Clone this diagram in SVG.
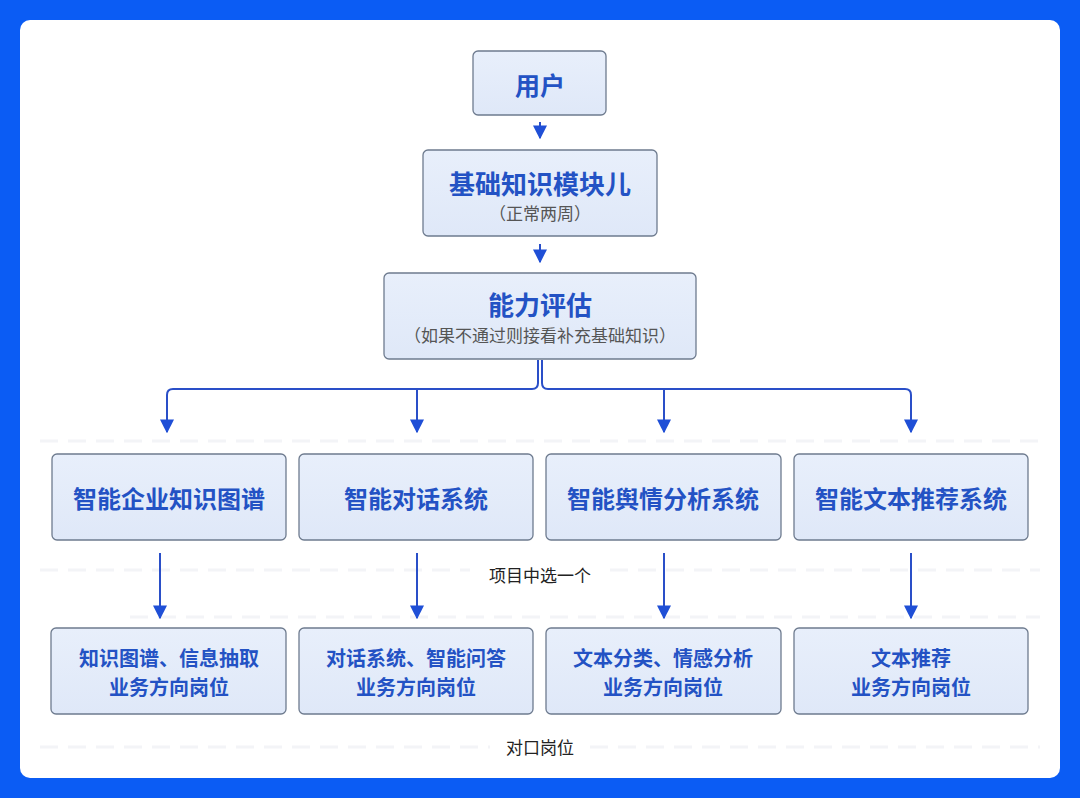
<svg xmlns="http://www.w3.org/2000/svg" width="1080" height="798" viewBox="0 0 1080 798">
<defs>
<linearGradient id="bg" x1="0" y1="0" x2="0" y2="1">
<stop offset="0" stop-color="#e8effb"/>
<stop offset="1" stop-color="#dfe8f8"/>
</linearGradient>
<marker id="ah" viewBox="0 0 10 10" refX="9" refY="5" markerWidth="14" markerHeight="14" markerUnits="userSpaceOnUse" orient="auto">
<path d="M0,0 L10,5 L0,10 Z" fill="#1f4fd6"/>
</marker>
</defs>
<style>
.box{fill:url(#bg);stroke:#6e7b8f;stroke-width:1.3}
.t{font-family:"Noto Sans CJK SC","Noto Sans",sans-serif;font-weight:bold;fill:#2352c4;text-anchor:middle;dominant-baseline:central}
.s{font-family:"Noto Sans CJK SC","Noto Sans",sans-serif;fill:#555;text-anchor:middle;dominant-baseline:central;font-size:17px}
.lbl{font-family:"Noto Sans CJK SC","Noto Sans",sans-serif;fill:#222;text-anchor:middle;dominant-baseline:central;font-size:17px}
.c{fill:none;stroke:#2a4fc8;stroke-width:2}
.d{stroke:#f3f4f7;stroke-width:3;stroke-dasharray:18 10}
</style>
<rect x="0" y="0" width="1080" height="798" fill="#0b5cf4"/>
<rect x="20" y="20" width="1040" height="758" rx="10" fill="#ffffff"/>
<g id="lanes">
<line class="d" x1="40" y1="441" x2="1040" y2="441"/>
<line class="d" x1="40" y1="570" x2="470" y2="570"/>
<line class="d" x1="610" y1="570" x2="1040" y2="570"/>
<line class="d" x1="130" y1="617" x2="1040" y2="617"/>
<line class="d" x1="40" y1="747" x2="490" y2="747"/>
<line class="d" x1="590" y1="747" x2="1040" y2="747"/>
</g>
<g id="connectors">
<path class="c" d="M540,122 L540,138" marker-end="url(#ah)"/>
<path class="c" d="M540,244 L540,262" marker-end="url(#ah)"/>
<path class="c" d="M538,360 L538,383 Q538,389 532,389 L173,389 Q167,389 167,395 L167,432" marker-end="url(#ah)"/>
<path class="c" d="M542,360 L542,383 Q542,389 548,389 L905,389 Q911,389 911,395 L911,432" marker-end="url(#ah)"/>
<path class="c" d="M417,389 L417,432" marker-end="url(#ah)"/>
<path class="c" d="M664,389 L664,432" marker-end="url(#ah)"/>
<path class="c" d="M160,553 L160,618" marker-end="url(#ah)"/>
<path class="c" d="M417,553 L417,618" marker-end="url(#ah)"/>
<path class="c" d="M664,553 L664,618" marker-end="url(#ah)"/>
<path class="c" d="M911,553 L911,618" marker-end="url(#ah)"/>
</g>
<g id="user">
<rect class="box" x="473" y="51" width="133" height="64" rx="5"/>
<text class="t" x="540" y="84" font-size="25">用户</text>
</g>
<g id="basic">
<rect class="box" x="423" y="150" width="234" height="86" rx="5"/>
<text class="t" x="540" y="182" font-size="26">基础知识模块儿</text>
<text class="s" x="540" y="212" font-size="16">（正常两周）</text>
</g>
<g id="eval">
<rect class="box" x="384" y="273" width="312" height="86" rx="5"/>
<text class="t" x="540" y="303" font-size="26">能力评估</text>
<text class="s" x="540" y="334">（如果不通过则接看补充基础知识）</text>
</g>
<g id="p1">
<rect class="box" x="52" y="454" width="234" height="86" rx="5"/>
<text class="t" x="169" y="497" font-size="24">智能企业知识图谱</text>
</g>
<g id="p2">
<rect class="box" x="299" y="454" width="234" height="86" rx="5"/>
<text class="t" x="416" y="497" font-size="24">智能对话系统</text>
</g>
<g id="p3">
<rect class="box" x="546" y="454" width="235" height="86" rx="5"/>
<text class="t" x="663" y="497" font-size="24">智能舆情分析系统</text>
</g>
<g id="p4">
<rect class="box" x="794" y="454" width="234" height="86" rx="5"/>
<text class="t" x="911" y="497" font-size="24">智能文本推荐系统</text>
</g>
<g id="choose">
<text class="lbl" x="540" y="574">项目中选一个</text>
</g>
<g id="j1">
<rect class="box" x="51" y="628" width="235" height="86" rx="5"/>
<text class="t" x="169" y="657" font-size="20">知识图谱、信息抽取</text>
<text class="t" x="169" y="686" font-size="20">业务方向岗位</text>
</g>
<g id="j2">
<rect class="box" x="299" y="628" width="234" height="86" rx="5"/>
<text class="t" x="416" y="657" font-size="20">对话系统、智能问答</text>
<text class="t" x="416" y="686" font-size="20">业务方向岗位</text>
</g>
<g id="j3">
<rect class="box" x="546" y="628" width="235" height="86" rx="5"/>
<text class="t" x="663" y="657" font-size="20">文本分类、情感分析</text>
<text class="t" x="663" y="686" font-size="20">业务方向岗位</text>
</g>
<g id="j4">
<rect class="box" x="794" y="628" width="234" height="86" rx="5"/>
<text class="t" x="911" y="657" font-size="20">文本推荐</text>
<text class="t" x="911" y="686" font-size="20">业务方向岗位</text>
</g>
<g id="match">
<text class="lbl" x="540" y="746">对口岗位</text>
</g>
</svg>
